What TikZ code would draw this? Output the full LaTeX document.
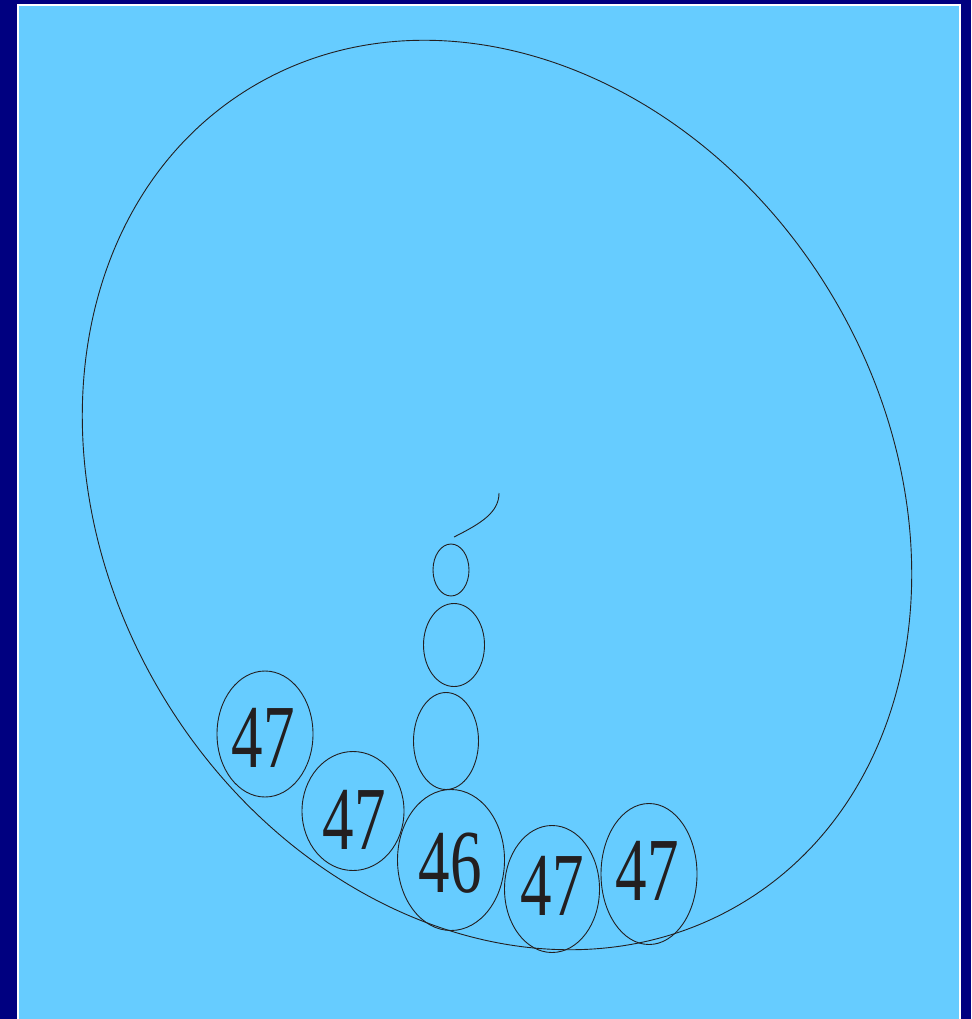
\documentclass[tikz,border=0pt]{standalone}
\usepackage{fontspec}
\setmainfont{Liberation Serif}
\usetikzlibrary{shapes.geometric}
\definecolor{fondo}{RGB}{0,0,128}
\definecolor{celeste}{RGB}{102,204,255}
\definecolor{tinta}{RGB}{35,31,32}
\tikzset{
  burbuja/.style={
    ellipse,
    draw=tinta,
    line width=0.9pt,
    inner sep=0pt
  },
  numero/.style={
    text=tinta,
    inner sep=0pt,
    font=\fontsize{90}{90}\selectfont
  }
}
\newcommand{\angosto}[1]{\scalebox{0.7}[1]{#1}}

\begin{document}
\begin{tikzpicture}[x=1pt,y=-1pt]
\useasboundingbox (0,0) rectangle (971,1019);
\fill[fondo] (0,0) rectangle (971,1019);
\filldraw[fill=celeste,draw=white,line width=2pt] (18,5) rectangle (960,1030);
% contorno grande
\node[burbuja,rotate=-58.9,minimum width=952pt,minimum height=780pt] (contorno) at (497,495) {};
% columna central
\node[burbuja,minimum width=36pt,minimum height=52pt] (b1) at (451,570) {};
\node[burbuja,minimum width=61pt,minimum height=83pt] (b2) at (454,645) {};
\node[burbuja,minimum width=65pt,minimum height=97pt] (b3) at (446,741) {};
\node[burbuja,minimum width=107pt,minimum height=141pt] (b4) at (451,860) {};
% fila de abajo
\node[burbuja,minimum width=96pt,minimum height=126pt] (b5) at (265,734) {};
\node[burbuja,minimum width=102pt,minimum height=119pt] (b6) at (353,811) {};
\node[burbuja,minimum width=95pt,minimum height=127pt] (b7) at (552,889) {};
\node[burbuja,minimum width=96pt,minimum height=141pt] (b8) at (649,874) {};
% cifras
\node[numero] (n4) at (450,863) {\angosto{46}};
\node[numero] (n5) at (263,738) {\angosto{47}};
\node[numero] (n6) at (354,820) {\angosto{47}};
\node[numero] (n7) at (552,886) {\angosto{47}};
\node[numero] (n8) at (647,871) {\angosto{47}};
% trazo sobre la columna
\coordinate (t0) at (454,537);
\coordinate (t1) at (499,493);
\draw[tinta,line width=0.9pt] (t0) .. controls (482,523) and (499,512) .. (t1);
\end{tikzpicture}
\end{document}
